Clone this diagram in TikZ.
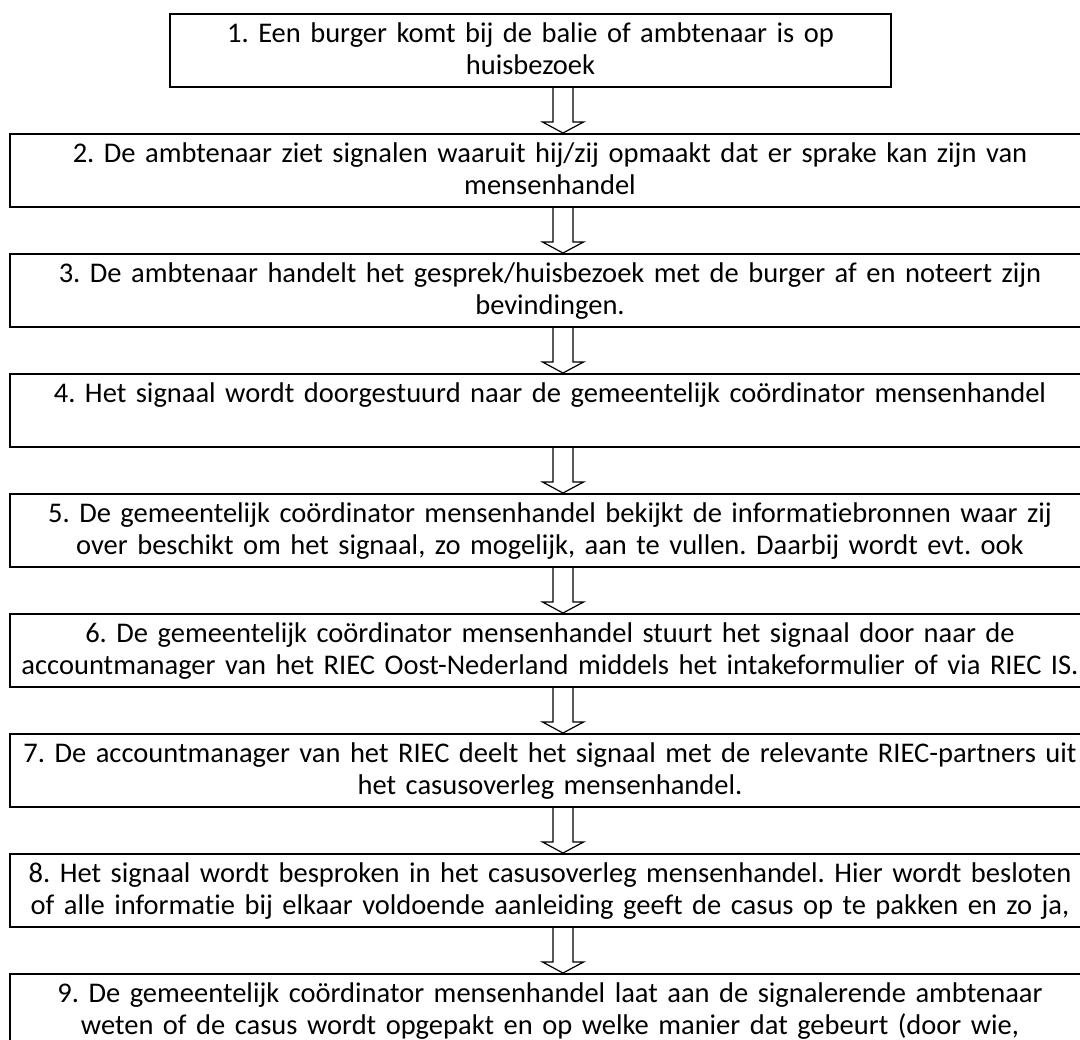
\documentclass[tikz,border=0pt]{standalone}
\usepackage{fontspec}
\setmainfont{Carlito}[Ligatures={NoCommon,NoRare}]
\usetikzlibrary{calc}
\newcommand\topln{\rule{0pt}{18pt}}
\newcommand\botln{\rule[-6.75pt]{0pt}{0pt}}
\begin{document}
\frenchspacing
\begin{tikzpicture}[x=0.75pt,y=-0.75pt,
  flowbox/.style={draw=black, line width=1.5pt, inner sep=0pt, minimum height=54.75pt,
    text width=810pt, align=center, anchor=north,
    font=\fontsize{21.375}{24}\selectfont\frenchspacing},
  blockarrow/.style={draw=black, line width=0.9pt, fill=white, line join=miter}]
\useasboundingbox (0,0) rectangle (1080,1039);
\clip (0,0) rectangle (1080,1039);
\fill[white] (0,0) rectangle (1080,1039);
\coordinate (ax) at (563,0);
\node[flowbox, text width=540.75pt] (b1) at (530.5,13) {\topln 1. Een burger komt bij de balie of ambtenaar is op\\huisbezoek\botln};
\node[flowbox] (b2) at (550,133) {\topln 2. De ambtenaar ziet signalen waaruit hij/zij opmaakt dat er sprake kan zijn van\\mensenhandel\botln};
\node[flowbox] (b3) at (550,253) {\topln 3. De ambtenaar handelt het gesprek/huisbezoek met de burger af en noteert zijn\\bevindingen.\botln};
\node[flowbox] (b4) at (550,373) {\topln 4. Het signaal wordt doorgestuurd naar de gemeentelijk coördinator mensenhandel\\\mbox{}\botln};
\node[flowbox] (b5) at (550,493) {\topln 5. De gemeentelijk coördinator mensenhandel bekijkt de informatiebronnen waar zij\\over beschikt om het signaal, zo mogelijk, aan te vullen. Daarbij wordt evt. ook\botln};
\node[flowbox] (b6) at (550,613) {\topln 6. De gemeentelijk coördinator mensenhandel stuurt het signaal door naar de\\accountmanager van het RIEC Oost-Nederland middels het intakeformulier of via RIEC IS.\botln};
\node[flowbox] (b7) at (550,733) {\topln 7. De accountmanager van het RIEC deelt het signaal met de relevante RIEC-partners uit\\het casusoverleg mensenhandel.\botln};
\node[flowbox] (b8) at (550,853) {\topln 8. Het signaal wordt besproken in het casusoverleg mensenhandel. Hier wordt besloten\\of alle informatie bij elkaar voldoende aanleiding geeft de casus op te pakken en zo ja,\botln};
\node[flowbox] (b9) at (550,973) {\topln 9. De gemeentelijk coördinator mensenhandel laat aan de signalerende ambtenaar\\weten of de casus wordt opgepakt en op welke manier dat gebeurt (door wie,\botln};
\foreach \a/\b in {b1/b2,b2/b3,b3/b4,b4/b5,b5/b6,b6/b7,b7/b8,b8/b9}{
  \draw[blockarrow]
    ($(ax |- \a.south)+(-10,0)$) -- ($(ax |- \b.north)+(-10,-11)$)
    -- ($(ax |- \b.north)+(-20.5,-11)$) -- (ax |- \b.north)
    -- ($(ax |- \b.north)+(20.5,-11)$) -- ($(ax |- \b.north)+(10,-11)$)
    -- ($(ax |- \a.south)+(10,0)$);
}
\end{tikzpicture}
\end{document}
